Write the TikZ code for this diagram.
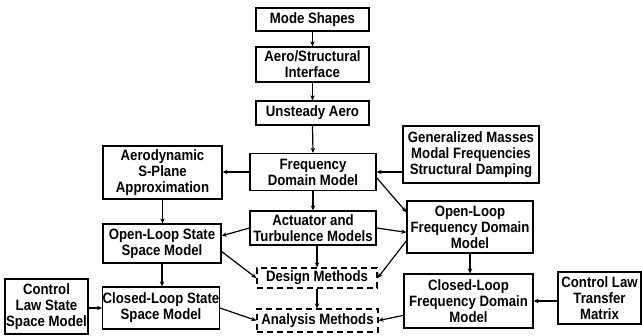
\documentclass[tikz,border=0pt]{standalone}
\usepackage{fontspec}
\setmainfont{Liberation Sans}[FakeStretch=0.88]
\usetikzlibrary{arrows.meta,calc}
\begin{document}
\begin{tikzpicture}[x=1pt,y=-1pt,
  box/.style={draw,line width=1.3pt,rectangle,inner sep=0pt,align=center,
    font=\fontsize{15}{16}\selectfont\bfseries},
  dbox/.style={box,dash pattern=on 6pt off 4pt},
  arr/.style={line width=1.2pt,-{Stealth[length=5pt,width=4.5pt]}}]
\useasboundingbox (0,0) rectangle (642,335);
\node[box,minimum width=113pt,minimum height=23pt] (ms) at (312.5,19.5) {Mode Shapes};
\node[box,minimum width=113pt,minimum height=35pt] (asi) at (312.5,64.5) {Aero/Structural\\Interface};
\node[box,minimum width=113pt,minimum height=24pt] (ua) at (312.5,113) {Unsteady Aero};
\node[box,minimum width=126pt,minimum height=37pt] (fdm) at (313,172) {Frequency\\Domain Model};
\node[box,minimum width=119pt,minimum height=53pt] (spa) at (162.5,172.5) {Aerodynamic\\S-Plane\\Approximation};
\node[box,minimum width=136pt,minimum height=57pt] (gm) at (471,154.5) {Generalized Masses\\Modal Frequencies\\Structural Damping};
\node[box,minimum width=126pt,minimum height=34pt] (act) at (313,228) {Actuator and\\Turbulence Models};
\node[box,minimum width=118pt,minimum height=39pt] (olss) at (162,243.5) {Open-Loop State\\Space Model};
\node[box,minimum width=126pt,minimum height=52pt] (olfdm) at (470,227) {Open-Loop\\Frequency Domain\\Model};
\node[dbox,minimum width=120pt,minimum height=20pt] (dm) at (317,278) {Design Methods};
\node[dbox,minimum width=121pt,minimum height=23pt] (am) at (317.5,320.5) {Analysis Methods};
\node[box,minimum width=116pt,minimum height=42pt] (clss) at (161,308) {Closed-Loop State\\Space Model};
\node[box,minimum width=83pt,minimum height=55pt] (cls) at (46.5,306.5) {Control\\Law State\\Space Model};
\node[box,minimum width=129pt,minimum height=54pt] (clfdm) at (468.5,301) {Closed-Loop\\Frequency Domain\\Model};
\node[box,minimum width=83pt,minimum height=52pt] (cltm) at (599.5,298) {Control Law\\Transfer\\Matrix};

\draw[arr] (ms.south) -- (asi.north);
\draw[arr] (asi.south) -- (ua.north);
\draw[arr] (ua.south) -- (fdm.north);
\draw[arr] (fdm.west) -- (fdm.west -| spa.east);
\draw[arr] (gm.west |- fdm.east) -- (fdm.east);
\draw[arr] (fdm.south) -- (act.north);
\draw[arr] (spa.south) -- (spa.south |- olss.north);
\draw[arr] (act.west) -- ($(olss.north east)!0.31!(olss.south east)$);
\draw[arr] ($(fdm.north east)!0.65!(fdm.south east)$) -- ($(olfdm.north west)!0.22!(olfdm.south west)$);
\draw[arr] (act.east) -- ($(olfdm.north west)!0.6!(olfdm.south west)$);
\draw[arr] ($(olss.north east)!0.7!(olss.south east)$) -- (dm.west);
\draw[arr] (act.south -| dm.north) -- (dm.north);
\draw[arr] ($(olfdm.north west)!0.76!(olfdm.south west)$) -- (dm.east);
\draw[arr] (olss.south) -- (olss.south |- clss.north);
\draw[arr] (dm.south) -- (dm.south |- am.north);
\draw[arr] (cls.east |- clss.west) -- (clss.west);
\draw[arr] (clss.east) -- (am.west);
\draw[arr] (olfdm.south) -- (olfdm.south |- clfdm.north);
\draw[arr] (cltm.west |- clfdm.east) -- (clfdm.east);
\draw[arr] ($(clfdm.north west)!0.76!(clfdm.south west)$) -- (am.east);
\end{tikzpicture}
\end{document}
